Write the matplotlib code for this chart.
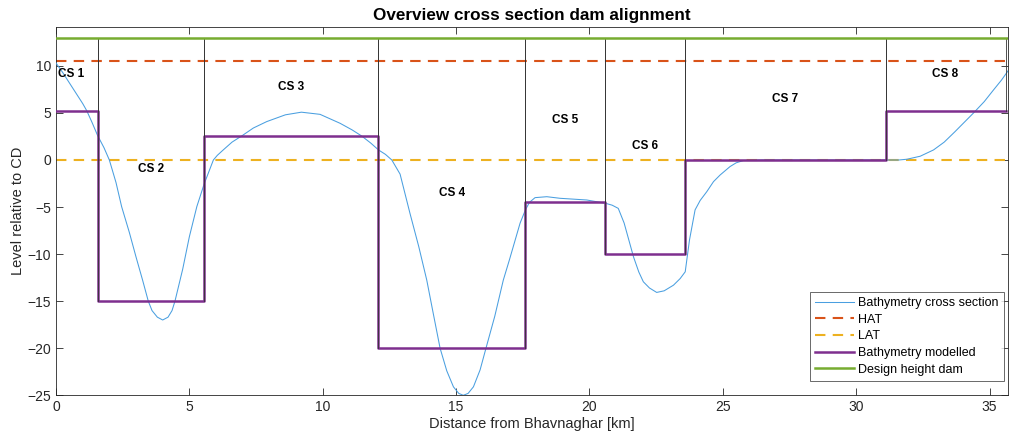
import matplotlib
matplotlib.use("Agg")
import matplotlib.pyplot as plt

plt.rcParams['font.family'] = ['Liberation Sans', 'DejaVu Sans']

# Bathymetry cross section
bathy_x = [0, 0.25, 0.5, 0.75, 1.0, 1.15, 1.35, 1.56, 1.8, 2.0, 2.25, 2.46, 2.75, 3.0, 3.25,
           3.46, 3.6, 3.8, 4.0, 4.2, 4.35, 4.46, 4.75, 5.0, 5.28, 5.56, 5.9, 6.05, 6.27,
           6.6, 6.96, 7.4, 7.9, 8.6, 9.2, 9.9, 10.65, 11.1, 11.46, 11.8, 12.09, 12.35,
           12.59, 12.9, 13.27, 13.6, 13.9, 14.15, 14.4, 14.65, 14.9, 15.1, 15.27, 15.45,
           15.65, 15.9, 16.12, 16.45, 16.77, 17.0, 17.4, 17.6, 17.75, 17.96, 18.4, 18.9,
           19.9, 20.6, 20.85, 21.08, 21.3, 21.65, 21.85, 22.02, 22.25, 22.52, 22.8, 23.15,
           23.4, 23.59, 23.75, 23.96, 24.15, 24.4, 24.65, 24.9, 25.27, 25.5, 25.77, 26.5,
           28.0, 30.0, 31.6, 31.9, 32.4, 32.9, 33.3, 33.7, 34.05, 34.4, 34.8, 35.15, 35.45,
           35.7]
bathy_y = [10.3, 9.3, 8.2, 7.1, 6.0, 5.25, 4.0, 2.6, 1.3, 0.0, -2.4, -4.95, -7.7, -10.3, -12.8,
           -15.0, -16.0, -16.7, -17.0, -16.7, -16.0, -15.0, -11.6, -8.15, -4.95, -2.5, 0.0, 0.5, 1.07,
           1.9, 2.55, 3.4, 4.08, 4.8, 5.08, 4.85, 3.9, 3.2, 2.55, 1.8, 1.07, 0.6,
           0.0, -1.5, -5.66, -9.2, -12.76, -16.4, -20.0, -22.4, -24.1, -24.8, -25.0, -24.8,
           -24.1, -22.3, -20.0, -16.6, -12.76, -10.6, -6.7, -5.3, -4.5, -4.0, -3.9, -4.07,
           -4.25, -4.6, -4.8, -5.14, -6.7, -10.28, -11.9, -12.94, -13.6, -14.07, -13.9, -13.3,
           -12.6, -11.88, -8.5, -5.3, -4.3, -3.36, -2.3, -1.59, -0.7, -0.3, -0.06, 0.0,
           0.0, 0.0, 0.0, 0.08, 0.4, 1.07, 1.9, 3.0, 4.0, 5.0, 6.2, 7.45, 8.5,
           9.5]

# Modelled cross sections
cs_names = ['CS 1', 'CS 2', 'CS 3', 'CS 4', 'CS 5', 'CS 6', 'CS 7', 'CS 8']
cs_bounds = [-0.4, 1.56, 5.56, 12.08, 17.6, 20.6, 23.6, 31.1, 35.6]
cs_levels = [5.25, -15.0, 2.55, -20.0, -4.5, -10.0, 0.0, 5.25]

hat_level = 10.5
lat_level = 0.0
dam_height = 13.0

c_bathy = '#4A9FE0'
c_hat = '#D95319'
c_lat = '#EDB120'
c_mod = '#7E2F8E'
c_dam = '#77AC30'
c_axis = '#262626'

fig = plt.figure(figsize=(10.09, 4.43), dpi=100)
ax = fig.add_axes([0.0555, 0.1077, 0.944, 0.8307])

h1, = ax.plot(bathy_x, bathy_y, color=c_bathy, lw=0.75, label='Bathymetry cross section', zorder=3)
h2 = ax.axhline(hat_level, color=c_hat, lw=1.5, ls=(0, (5, 3.5)), label='HAT', zorder=2)
h3 = ax.axhline(lat_level, color=c_lat, lw=1.5, ls=(0, (5, 3.5)), label='LAT', zorder=2)
h4, = ax.step(cs_bounds, cs_levels + [cs_levels[-1]], where='post', color=c_mod, lw=1.8,
              label='Bathymetry modelled', zorder=4)
h5 = ax.axhline(dam_height, color=c_dam, lw=1.8, label='Design height dam', zorder=5)

for i, name in enumerate(cs_names):
    x0, x1 = cs_bounds[i], cs_bounds[i + 1]
    lev = cs_levels[i]
    ax.plot([x0, x0], [lev, dam_height], color='#333333', lw=0.6, zorder=4.5)
    ax.plot([x1, x1], [lev, dam_height], color='#333333', lw=0.6, zorder=4.5)
    ax.text((x0 + x1) / 2, (lev + dam_height) / 2, name, ha='center', va='center',
            fontsize=8.5, fontweight='bold', color='black', zorder=6)

ax.set_xlim(0, 35.71)
ax.set_ylim(-25, 14.1)
ax.set_xticks(range(0, 36, 5))
ax.set_yticks(range(-25, 11, 5))
ax.tick_params(direction='in', length=5, top=True, right=True, labelsize=10,
               colors=c_axis, width=0.6)
for s in ax.spines.values():
    s.set_color(c_axis)
    s.set_linewidth(0.6)

ax.set_xlabel('Distance from Bhavnaghar [km]', fontsize=10.5, color=c_axis, labelpad=2)
ax.set_ylabel('Level relative to CD', fontsize=10.5, color=c_axis, labelpad=2)
ax.set_title('Overview cross section dam alignment', fontsize=12.3, fontweight='bold',
             color='black', pad=5)

leg = ax.legend(handles=[h1, h2, h3, h4, h5], loc='lower right', fontsize=9,
                bbox_to_anchor=(0.995, 0.04), frameon=True, fancybox=False,
                borderpad=0.4, labelspacing=0.37, handlelength=3.1, handletextpad=0.35,
                borderaxespad=0)
leg.get_frame().set_edgecolor(c_axis)
leg.get_frame().set_linewidth(0.6)

fig.savefig('out.png', dpi=100)
